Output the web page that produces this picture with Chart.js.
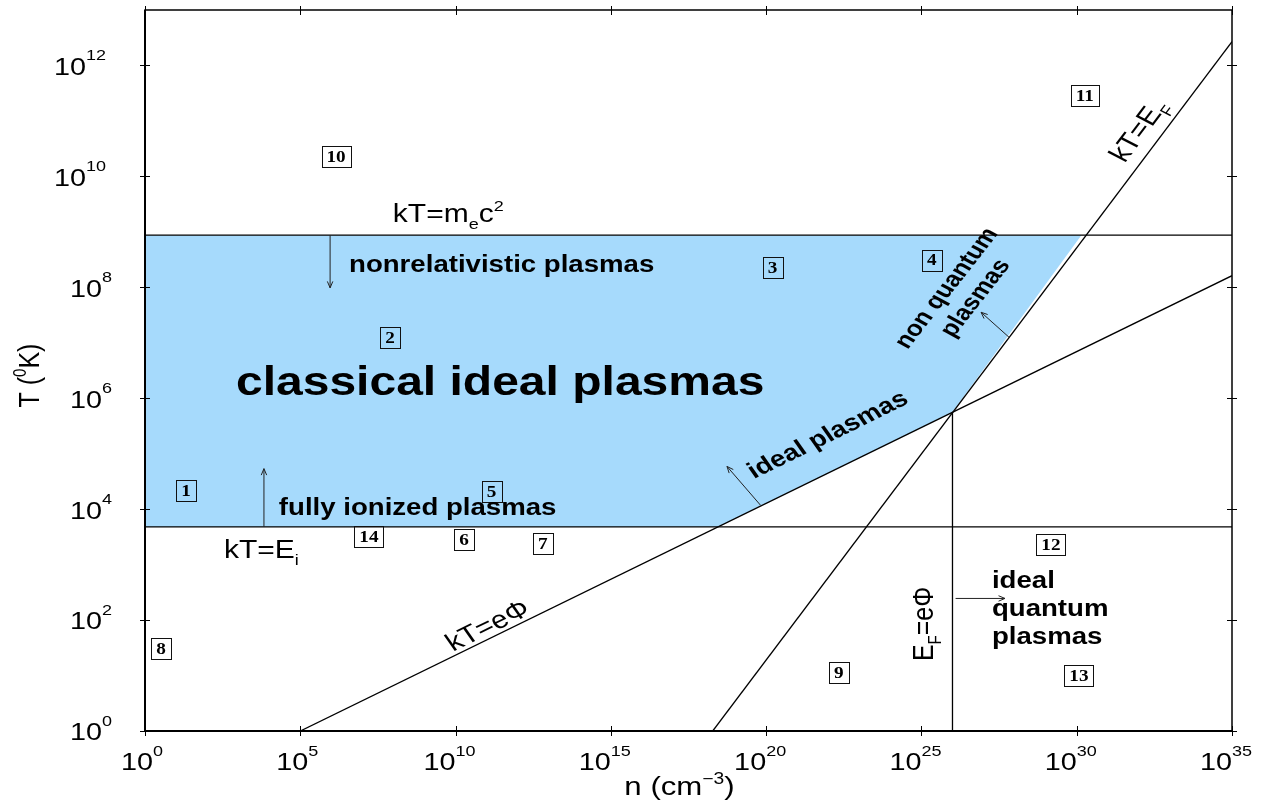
<!DOCTYPE html>
<html>
<head>
<meta charset="utf-8">
<script src="https://cdn.jsdelivr.net/npm/chart.js@4.4.1/dist/chart.umd.min.js"></script>
<style>
  html, body { margin: 0; padding: 0; background: #fff; }
  #plasmaChart { display: block; }
</style>
</head>
<body>
<canvas id="plasmaChart" width="1269" height="805"></canvas>
<script>
// everything is in log10: x = log10 n (cm^-3), y = log10 T (K)
const xTickExps = [0, 5, 10, 15, 20, 25, 30, 35];
const yTickExps = [0, 2, 4, 6, 8, 10, 12];

// boundary lines
const lineNames = ['kT=mec2', 'kT=Ei', 'kT=ePhi', 'kT=EF', 'EF=ePhi'];
const lineLogN = [[0, 35], [0, 35], [5, 35], [18.28, 35], [26.0, 26.0]];
const lineLogT = [[8.94, 8.94], [3.68, 3.68], [0, 8.21], [0, 12.43], [0, 5.75]];

// shaded region: classical ideal plasmas
const regionLogN = [0, 30.15, 26.0, 18.43, 0];
const regionLogT = [8.94, 8.94, 5.75, 3.68, 3.68];

// numbered regions
const boxLabels = ['1', '2', '3', '4', '5', '6', '7', '8', '9', '10', '11', '12', '13', '14'];
const boxLogN = [1.32, 7.89, 20.21, 25.33, 11.16, 10.27, 12.81, 0.52, 22.34, 6.15, 30.26, 29.17, 30.07, 7.21];
const boxLogT = [4.33, 7.09, 8.35, 8.49, 4.32, 3.45, 3.38, 1.48, 1.05, 10.35, 11.45, 3.36, 1.00, 3.50];

// arrows (start -> end)
const arrowFromN = [5.96, 3.83, 19.82, 27.82, 26.10];
const arrowFromT = [8.94, 3.68, 4.07, 7.10, 2.39];
const arrowToN = [5.96, 3.83, 18.74, 26.92, 27.69];
const arrowToT = [7.99, 4.73, 4.77, 7.55, 2.39];

// text labels
const notes = [
  {text: 'kT=m_{e}c^{2}', x: 7.98, y: 9.18, size: 25},
  {text: 'nonrelativistic plasmas', x: 6.57, y: 8.28, size: 23, bold: true},
  {text: 'classical ideal plasmas', x: 2.93, y: 6.06, size: 40, bold: true},
  {text: 'fully ionized plasmas', x: 4.31, y: 3.90, size: 23, bold: true},
  {text: 'kT=E_{i}', x: 2.54, y: 3.12, size: 25},
  {text: 'ideal', x: 27.27, y: 2.585, size: 23, bold: true},
  {text: 'quantum', x: 27.27, y: 2.08, size: 23, bold: true},
  {text: 'plasmas', x: 27.27, y: 1.56, size: 23, bold: true},
  {text: 'E_{F}=eΦ', x: 25.37, y: 1.93, size: 25, angle: -90, align: 'center'},
  {text: 'kT=eΦ', x: 11.01, y: 1.915, size: 25, angle: -26.1, align: 'center', middle: true},
  {text: 'ideal plasmas', x: 21.96, y: 5.36, size: 23, bold: true, angle: -26.1, align: 'center', middle: true},
  {text: 'kT=E_{F}', x: 31.95, y: 10.84, size: 25, angle: -53, align: 'center', middle: true},
  {text: 'non quantum', x: 25.76, y: 8.00, size: 22, bold: true, angle: -52, align: 'center', middle: true},
  {text: 'plasmas', x: 26.69, y: 7.82, size: 22, bold: true, angle: -52, align: 'center', middle: true}
];

const SX = 1.2; // the original figure is stretched sideways
const FONT = '"Liberation Sans", Arial, sans-serif';
const SERIF = '"Liberation Serif", "Times New Roman", serif';

function parseRich(str) {
  const parts = [];
  const re = /([_^])\{([^}]*)\}/g;
  let last = 0, m;
  while ((m = re.exec(str))) {
    if (m.index > last) parts.push({t: str.slice(last, m.index), k: 'n'});
    parts.push({t: m[2], k: m[1] === '_' ? 'sub' : 'sup'});
    last = re.lastIndex;
  }
  if (last < str.length) parts.push({t: str.slice(last), k: 'n'});
  return parts;
}

function drawRich(ctx, str, x, y, o) {
  const size = o.size;
  const weight = o.bold ? 'bold ' : '';
  const small = Math.round(size * 0.6);
  const parts = parseRich(str);
  const fontOf = p => weight + (p.k === 'n' ? size : small) + 'px ' + FONT;
  let w = 0;
  parts.forEach(p => {
    ctx.font = fontOf(p);
    p.w = ctx.measureText(p.t).width;
    w += p.w;
  });
  const a = (o.angle || 0) * Math.PI / 180;
  const a2 = Math.atan2(SX * Math.sin(a), Math.cos(a));
  ctx.save();
  ctx.translate(x, y);
  ctx.scale(SX, 1);
  ctx.rotate(a2);
  ctx.fillStyle = '#000';
  ctx.textAlign = 'left';
  ctx.textBaseline = 'alphabetic';
  let cx = o.align === 'center' ? -w / 2 : 0;
  const dy = o.middle ? size * 0.36 : 0;
  parts.forEach(p => {
    ctx.font = fontOf(p);
    const off = p.k === 'sub' ? size * 0.28 : (p.k === 'sup' ? -size * 0.42 : 0);
    ctx.fillText(p.t, cx, dy + off);
    cx += p.w;
  });
  ctx.restore();
}

function drawPow(ctx, exp, x, y, align) {
  ctx.font = '24px ' + FONT;
  const wBase = ctx.measureText('10').width;
  const wExp = ctx.measureText(String(exp)).width;
  const total = (wBase + wExp) * SX;
  const left = align === 'right' ? x - total : x - total / 2;
  ctx.save();
  ctx.translate(left, y);
  ctx.scale(SX, 1);
  ctx.fillStyle = '#000';
  ctx.textAlign = 'left';
  ctx.textBaseline = 'alphabetic';
  ctx.fillText('10', 0, 0);
  ctx.font = '15px ' + FONT;
  ctx.fillText(String(exp), wBase, -14.5);
  ctx.restore();
}

function drawArrow(ctx, x0, y0, x1, y1) {
  const ang = Math.atan2(y1 - y0, x1 - x0);
  const L = 7, s = 0.4;
  ctx.beginPath();
  ctx.moveTo(x0, y0);
  ctx.lineTo(x1, y1);
  ctx.moveTo(x1 - L * Math.cos(ang - s), y1 - L * Math.sin(ang - s));
  ctx.lineTo(x1, y1);
  ctx.lineTo(x1 - L * Math.cos(ang + s), y1 - L * Math.sin(ang + s));
  ctx.stroke();
}

const annotate = {
  id: 'annotate',
  afterDatasetsDraw(chart) {
    const ctx = chart.ctx;
    const xs = chart.scales.x, ys = chart.scales.y;

    // arrows
    ctx.save();
    ctx.strokeStyle = '#222';
    ctx.lineWidth = 1;
    arrowFromN.forEach((n, i) => {
      drawArrow(ctx, xs.getPixelForValue(n), ys.getPixelForValue(arrowFromT[i]),
        xs.getPixelForValue(arrowToN[i]), ys.getPixelForValue(arrowToT[i]));
    });
    ctx.restore();

    // numbered boxes, placed at the points of the 'regions' dataset
    const meta = chart.getDatasetMeta(chart.data.datasets.length - 1);
    ctx.save();
    ctx.font = 'bold 16px ' + SERIF;
    ctx.strokeStyle = '#111';
    ctx.lineWidth = 1;
    meta.data.forEach((pt, i) => {
      const lbl = boxLabels[i];
      const tw = ctx.measureText(lbl).width * SX;
      const bw = Math.round(tw + 10), bh = 21;
      const bx = Math.round(pt.x - bw / 2) + 0.5, by = Math.round(pt.y - bh / 2) + 0.5;
      ctx.strokeRect(bx, by, bw, bh);
      ctx.save();
      ctx.translate(pt.x, pt.y);
      ctx.scale(SX, 1);
      ctx.fillStyle = '#000';
      ctx.textAlign = 'center';
      ctx.textBaseline = 'middle';
      ctx.fillText(lbl, 0, 1);
      ctx.restore();
    });
    ctx.restore();

    notes.forEach(n => {
      drawRich(ctx, n.text, xs.getPixelForValue(n.x), ys.getPixelForValue(n.y), n);
    });
  },
  afterDraw(chart) {
    const ctx = chart.ctx;
    const {left, right, top, bottom} = chart.chartArea;
    const xs = chart.scales.x, ys = chart.scales.y;
    ctx.save();
    ctx.strokeStyle = '#000';
    ctx.lineWidth = 1.5;
    ctx.strokeRect(left, top, right - left, bottom - top);
    ctx.lineWidth = 2;
    ctx.beginPath();
    ctx.moveTo(left, top);
    ctx.lineTo(left, bottom);
    ctx.lineTo(right, bottom);
    ctx.stroke();

    ctx.lineWidth = 1;
    ctx.beginPath();
    xTickExps.forEach(e => {
      const px = Math.round(xs.getPixelForValue(e)) + 0.5;
      ctx.moveTo(px, bottom - 5); ctx.lineTo(px, bottom + 5);
      ctx.moveTo(px, top - 4); ctx.lineTo(px, top + 5);
    });
    yTickExps.forEach(e => {
      const py = Math.round(ys.getPixelForValue(e)) + 0.5;
      ctx.moveTo(left - 5, py); ctx.lineTo(left + 5, py);
      ctx.moveTo(right - 5, py); ctx.lineTo(right + 5, py);
    });
    ctx.stroke();
    ctx.restore();

    xTickExps.forEach(e => drawPow(ctx, e, xs.getPixelForValue(e), bottom + 39, 'center'));
    yTickExps.forEach(e => drawPow(ctx, e, left - 27, ys.getPixelForValue(e) + 9.4, 'right'));

    drawRich(ctx, 'n (cm^{−3})', (left + right) / 2 - 9, bottom + 64, {size: 26, align: 'center'});
    drawRich(ctx, 'T (^{0}K)', left - 106, (top + bottom) / 2 + 5, {size: 25, angle: -90, align: 'center'});
  }
};

const lineDatasets = lineNames.map((name, i) => ({
  label: name,
  data: lineLogN[i].map((x, j) => ({x: x, y: lineLogT[i][j]})),
  showLine: true,
  borderColor: '#000',
  borderWidth: 1.3,
  pointRadius: 0,
  fill: false,
  order: 1
}));

const myChart = new Chart(document.getElementById('plasmaChart'), {
  type: 'scatter',
  data: {
    datasets: [
      {
        label: 'classical ideal plasmas',
        data: regionLogN.map((x, i) => ({x: x, y: regionLogT[i]})),
        showLine: true,
        fill: 'shape',
        backgroundColor: '#a6dafc',
        borderColor: 'rgba(0,0,0,0)',
        borderWidth: 0,
        pointRadius: 0,
        order: 3
      },
      ...lineDatasets,
      {
        label: 'regions',
        data: boxLogN.map((x, i) => ({x: x, y: boxLogT[i]})),
        showLine: false,
        pointRadius: 0,
        order: 0
      }
    ]
  },
  options: {
    responsive: false,
    animation: false,
    devicePixelRatio: 1,
    layout: {padding: {left: 145, right: 37, top: 10, bottom: 74}},
    plugins: {legend: {display: false}, tooltip: {enabled: false}},
    scales: {
      x: {type: 'linear', min: 0, max: 35, display: false},
      y: {type: 'linear', min: 0, max: 13, display: false}
    }
  },
  plugins: [annotate]
});
</script>
</body>
</html>
